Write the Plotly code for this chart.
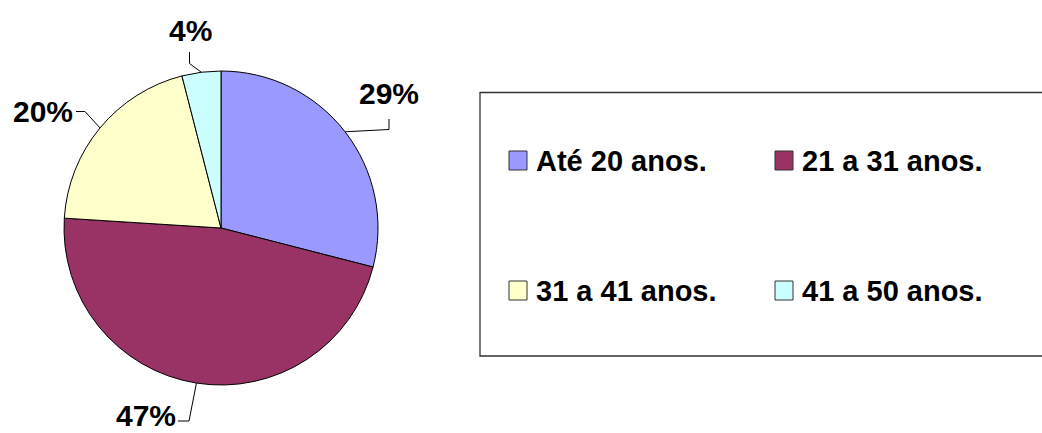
import math
import plotly.graph_objects as go

# ---- data ----
categories = ["Até 20 anos.", "21 a 31 anos.", "31 a 41 anos.", "41 a 50 anos."]
values = [29, 47, 20, 4]
colors = ["#9999FF", "#993366", "#FFFFCC", "#CCFFFF"]

W, H = 1042, 433
FONT = "Liberation Sans, Arial, sans-serif"

# pie geometry (pixels)
CX, CY, R = 221, 228, 157

def px(x):
    return x / W

def py(y):
    return 1 - y / H

fig = go.Figure()
fig.add_trace(go.Pie(
    labels=categories, values=values, sort=False, direction="clockwise", rotation=0,
    marker=dict(colors=colors, line=dict(color="#000000", width=1)),
    textinfo="none", hoverinfo="label+percent", showlegend=False,
    domain=dict(x=[px(CX - R), px(CX + R)], y=[py(CY + R), py(CY - R)]),
))

# label placement (pixels): label centre and leader-line elbow points
label_pos = [(389, 93.5), (146, 415), (42.5, 111), (190.5, 30)]
elbows = [
    [(389, 129.5), (389, 119)],
    [(189, 421), (178, 421)],
    [(85, 111.5), (76, 111.5)],
    [(189.5, 63.5), (189.5, 52)],
]

total = sum(values)
cum = 0
shapes = []
annotations = []
for i, v in enumerate(values):
    mid = (cum + v / 2) / total * 2 * math.pi
    cum += v
    sx = CX + R * math.sin(mid)
    sy = CY - R * math.cos(mid)
    pts = [(sx, sy)] + elbows[i]
    path = "M " + " L ".join(f"{px(a):.5f},{py(b):.5f}" for a, b in pts)
    shapes.append(dict(type="path", path=path, xref="paper", yref="paper",
                       line=dict(color="#000000", width=1)))
    pct = f"{round(v / total * 100)}%"
    lx, ly = label_pos[i]
    annotations.append(dict(text=pct, x=px(lx), y=py(ly), xref="paper", yref="paper",
                            xanchor="center", yanchor="middle", showarrow=False,
                            font=dict(family=FONT, size=30, color="#000000", weight="bold")))

# legend box (open on the right, running off the canvas)
box = [(1100, 92.5), (480, 92.5), (480, 356), (1100, 356)]
shapes.append(dict(type="path", xref="paper", yref="paper",
                   path="M " + " L ".join(f"{px(a):.5f},{py(b):.5f}" for a, b in box),
                   line=dict(color="#333333", width=1.3)))

# legend entries (2 columns x 2 rows)
col_x = [509, 775]
row_y = [151, 281]
for i, (cat, col) in enumerate(zip(categories, colors)):
    cx = col_x[i % 2]
    ry = row_y[i // 2]
    shapes.append(dict(type="rect", xref="paper", yref="paper",
                       x0=px(cx), x1=px(cx + 18), y0=py(ry + 19), y1=py(ry),
                       line=dict(color="#333333", width=1), fillcolor=col))
    annotations.append(dict(text=cat, x=px(cx + 25), y=py(ry + 9.5), xref="paper", yref="paper",
                            xanchor="left", yanchor="middle", showarrow=False,
                            font=dict(family=FONT, size=29, color="#000000", weight="bold")))

fig.update_layout(
    width=W, height=H, autosize=False,
    margin=dict(l=0, r=0, t=0, b=0),
    paper_bgcolor="#FFFFFF", plot_bgcolor="#FFFFFF",
    shapes=shapes, annotations=annotations,
)

fig.write_html("out.html", config={"displayModeBar": False},
               post_script="document.body.style.margin='0px';document.body.style.overflow='hidden';")
